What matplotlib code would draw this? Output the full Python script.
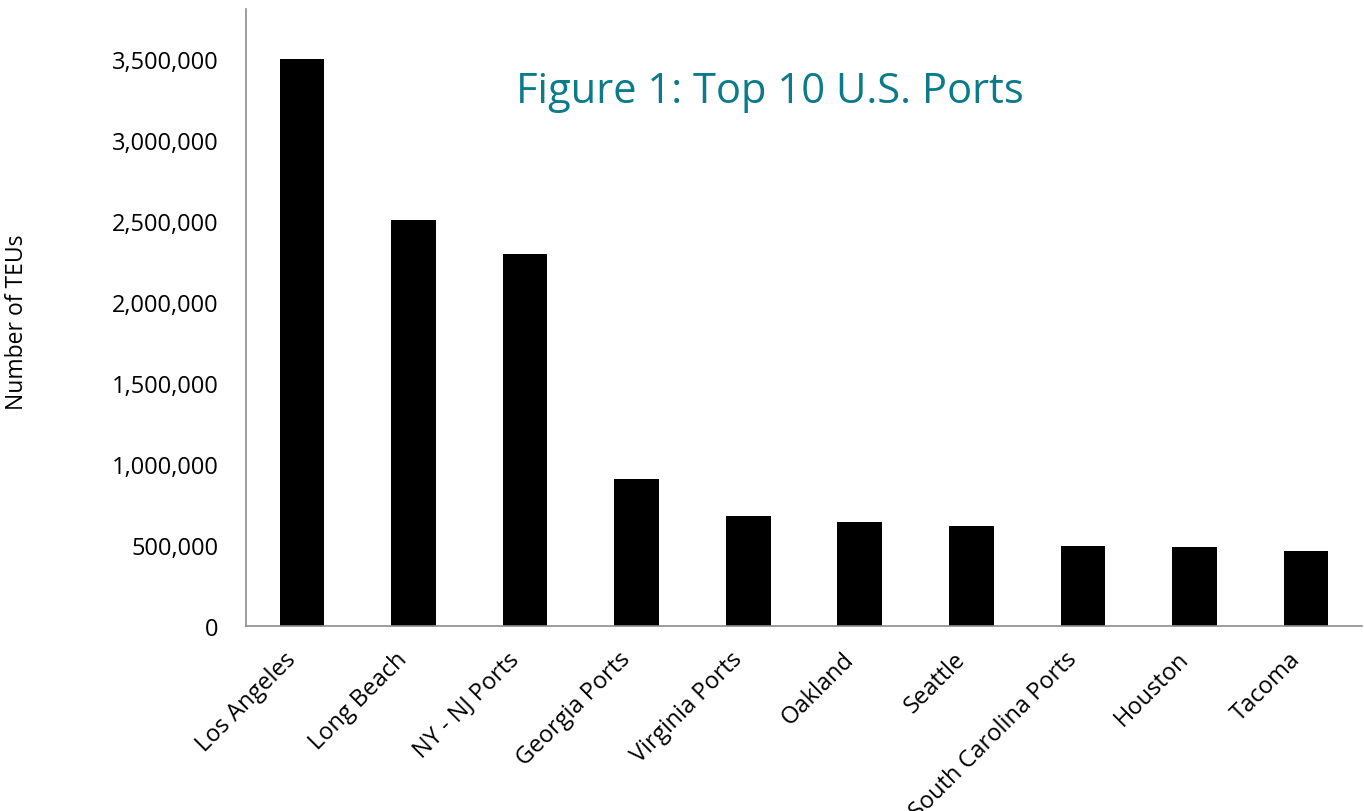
import matplotlib
matplotlib.use("Agg")
import matplotlib.pyplot as plt
from matplotlib.ticker import FuncFormatter
from matplotlib.transforms import ScaledTranslation

ports = ["Los Angeles", "Long Beach", "NY - NJ Ports", "Georgia Ports", "Virginia Ports",
         "Oakland", "Seattle", "South Carolina Ports", "Houston", "Tacoma"]
teus = [3500000, 2505000, 2295000, 907000, 679000, 642000, 617000, 494000, 488000, 463000]
yticks = [0, 500000, 1000000, 1500000, 2000000, 2500000, 3000000, 3500000]

plt.rcParams['font.family'] = ['Open Sans', 'DejaVu Sans']

fig = plt.figure(figsize=(13.64, 8.12), dpi=100)
ax = fig.add_axes([0.1804, 0.2278, 0.8181, 0.7599])

x = list(range(len(ports)))
ax.bar(x, teus, width=0.4, color="black")
ax.set_xlim(-0.5, len(ports) - 0.5)
ax.set_ylim(0, 3810000)
ax.set_yticks(yticks)
ax.yaxis.set_major_formatter(FuncFormatter(lambda v, p: f"{int(v):,}"))
ax.set_xticks(x)
ax.set_xticklabels(ports, rotation=45, ha="right", rotation_mode="anchor")
ax.tick_params(axis="y", length=0, labelsize=17, colors="black", pad=20)
ax.tick_params(axis="x", length=0, labelsize=17, colors="black", pad=15)
off = ScaledTranslation(-18 / 100, 0, fig.dpi_scale_trans)
for lab in ax.get_xticklabels():
    lab.set_transform(lab.get_transform() + off)
for s in ["top", "right"]:
    ax.spines[s].set_visible(False)
for s in ["left", "bottom"]:
    ax.spines[s].set_color("#8c8c8c")
    ax.spines[s].set_linewidth(1.2)

fig.text(0.0125, 0.603, "Number of TEUs", rotation=90, ha="center", va="center", fontsize=16.5)
fig.text(0.5645, 0.8867, "Figure 1: Top 10 U.S. Ports", ha="center", va="center",
         fontsize=30, color="#0B7A8A")

fig.savefig("out.png", dpi=100)
